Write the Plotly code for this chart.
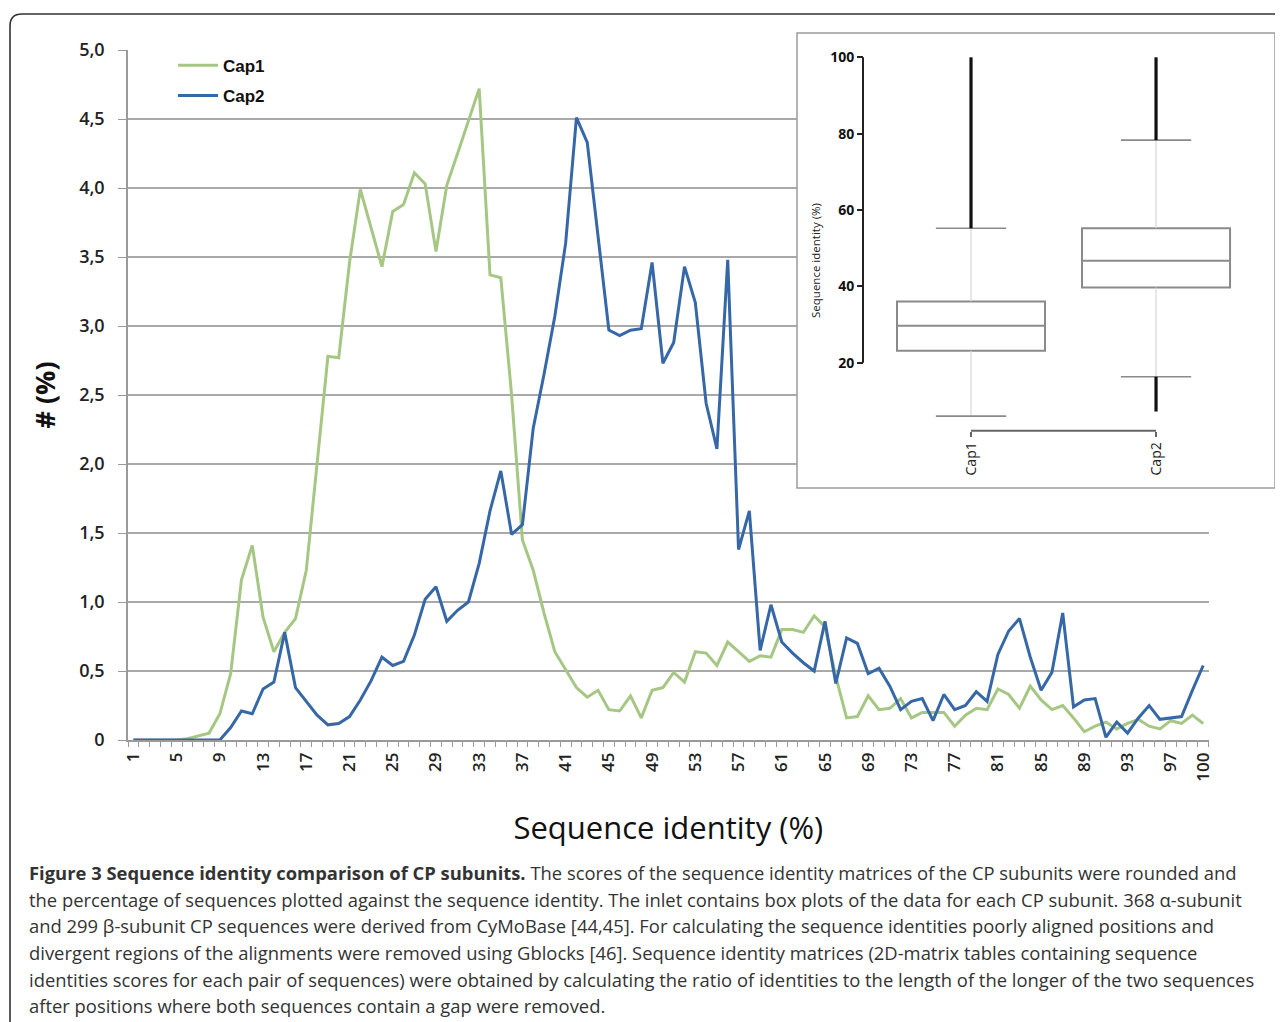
import plotly.graph_objects as go

# ---------------- data ----------------
identity = list(range(1, 101))
cap1 = [0, 0, 0, 0, 0, 0.01, 0.03, 0.05, 0.19, 0.48,
        1.16, 1.41, 0.89, 0.64, 0.78, 0.88, 1.23, 2.03, 2.78, 2.77,
        3.46, 3.99, 3.70, 3.43, 3.83, 3.88, 4.11, 4.03, 3.54, 4.02,
        4.25, 4.48, 4.72, 3.37, 3.35, 2.50, 1.45, 1.23, 0.92, 0.64,
        0.51, 0.38, 0.31, 0.36, 0.22, 0.21, 0.32, 0.16, 0.36, 0.38,
        0.49, 0.42, 0.64, 0.63, 0.54, 0.71, 0.64, 0.57, 0.61, 0.60,
        0.80, 0.80, 0.78, 0.90, 0.82, 0.46, 0.16, 0.17, 0.32, 0.22,
        0.23, 0.30, 0.16, 0.20, 0.20, 0.20, 0.10, 0.18, 0.23, 0.22,
        0.37, 0.33, 0.23, 0.39, 0.29, 0.22, 0.25, 0.16, 0.06, 0.10,
        0.13, 0.08, 0.12, 0.15, 0.10, 0.08, 0.14, 0.12, 0.18, 0.12]
cap2 = [0, 0, 0, 0, 0, 0, 0, 0, 0, 0.09,
        0.21, 0.19, 0.37, 0.42, 0.78, 0.38, 0.28, 0.18, 0.11, 0.12,
        0.17, 0.29, 0.43, 0.60, 0.54, 0.57, 0.76, 1.02, 1.11, 0.86,
        0.94, 1.00, 1.28, 1.66, 1.95, 1.49, 1.56, 2.26, 2.65, 3.07,
        3.60, 4.51, 4.33, 3.65, 2.97, 2.93, 2.97, 2.98, 3.46, 2.73,
        2.88, 3.43, 3.17, 2.44, 2.11, 3.48, 1.38, 1.66, 0.65, 0.98,
        0.71, 0.63, 0.56, 0.50, 0.86, 0.41, 0.74, 0.70, 0.48, 0.52,
        0.39, 0.22, 0.28, 0.30, 0.14, 0.33, 0.22, 0.25, 0.35, 0.28,
        0.62, 0.79, 0.88, 0.60, 0.36, 0.49, 0.92, 0.24, 0.29, 0.30,
        0.02, 0.13, 0.05, 0.16, 0.25, 0.15, 0.16, 0.17, 0.36, 0.54]
x_tick_values = [1, 5, 9, 13, 17, 21, 25, 29, 33, 37, 41, 45, 49, 53, 57,
                 61, 65, 69, 73, 77, 81, 85, 89, 93, 97, 100]
y_tick_values = [0, 0.5, 1.0, 1.5, 2.0, 2.5, 3.0, 3.5, 4.0, 4.5, 5.0]
y_tick_text = ["0", "0,5", "1,0", "1,5", "2,0", "2,5", "3,0", "3,5", "4,0", "4,5", "5,0"]

# inset box plot summary (sequence identity %)
box_names = ["Cap1", "Cap2"]
box_pos = [0, 1]
box_q1 = [23.1, 39.7]
box_median = [29.7, 46.7]
box_q3 = [36.0, 55.2]
whisker_low = [6.0, 16.3]
whisker_high = [55.2, 78.3]
outlier_top = [100, 100]
outlier_bottom = [None, 7.2]
inset_ticks = [20, 40, 60, 80, 100]

caption_lines = [
    "<b>Figure 3 Sequence identity comparison of CP subunits.</b> The scores of the sequence identity matrices of the CP subunits were rounded and",
    "the percentage of sequences plotted against the sequence identity. The inlet contains box plots of the data for each CP subunit. 368 α-subunit",
    "and 299 β-subunit CP sequences were derived from CyMoBase [44,45]. For calculating the sequence identities poorly aligned positions and",
    "divergent regions of the alignments were removed using Gblocks [46]. Sequence identity matrices (2D-matrix tables containing sequence",
    "identities scores for each pair of sequences) were obtained by calculating the ratio of identities to the length of the longer of the two sequences",
    "after positions where both sequences contain a gap were removed.",
]

# ---------------- layout helpers ----------------
OFF = 8                     # page offset of the figure inside the browser window
W, H = 1283 - OFF, 1022 - OFF


def fx(p):
    return (p - OFF) / W


def fy(p):
    return 1 - (p - OFF) / H


GREEN = "#A6C784"
BLUE = "#3667A6"
FONT = "Open Sans"

fig = go.Figure()

fig.add_trace(go.Scatter(x=identity, y=cap1, mode="lines", name="Cap1",
                         line=dict(color=GREEN, width=3), legend="legend"))
fig.add_trace(go.Scatter(x=identity, y=cap2, mode="lines", name="Cap2",
                         line=dict(color=BLUE, width=3), legend="legend2"))

# ---- inset box plot ----
fig.add_trace(go.Box(x=box_pos, q1=box_q1, median=box_median, q3=box_q3,
                     lowerfence=box_q1, upperfence=box_q3, width=0.8,
                     xaxis="x2", yaxis="y2", fillcolor="white",
                     line=dict(color="#8a8a8a", width=2), boxpoints=False,
                     showlegend=False, hoverinfo="skip", name="box"))

wx, wy = [], []
for p, lo, a, b, hi in zip(box_pos, whisker_low, box_q1, box_q3, whisker_high):
    wx += [p, p, None, p, p, None]
    wy += [lo, a, None, b, hi, None]
fig.add_trace(go.Scatter(x=wx, y=wy, mode="lines", xaxis="x2", yaxis="y2",
                         line=dict(color="#d8d8d8", width=1.2), showlegend=False,
                         hoverinfo="skip"))

cap_half = 0.19
cx, cy = [], []
for p, lo, hi in zip(box_pos, whisker_low, whisker_high):
    cx += [p - cap_half, p + cap_half, None, p - cap_half, p + cap_half, None]
    cy += [lo, lo, None, hi, hi, None]
fig.add_trace(go.Scatter(x=cx, y=cy, mode="lines", xaxis="x2", yaxis="y2",
                         line=dict(color="#8a8a8a", width=1.6), showlegend=False,
                         hoverinfo="skip"))

ox, oy = [], []
for p, hi, top, bot, lo in zip(box_pos, whisker_high, outlier_top, outlier_bottom, whisker_low):
    ox += [p, p, None]
    oy += [hi, top, None]
    if bot is not None:
        ox += [p, p, None]
        oy += [bot, lo, None]
fig.add_trace(go.Scatter(x=ox, y=oy, mode="lines", xaxis="x2", yaxis="y2",
                         line=dict(color="#111111", width=3.2), showlegend=False,
                         hoverinfo="skip"))

grid_col = "#a9a9a9"
axis_col = "#9a9a9a"

inset_left, inset_right, inset_top, inset_bottom = 797, 1275, 33, 488
inset_axis_x = 863
bracket_y = 430.7

fig.update_layout(
    width=W, height=H,
    margin=dict(l=0, r=0, t=0, b=0),
    paper_bgcolor="white", plot_bgcolor="white",
    font=dict(family=FONT, color="#222"),
    xaxis=dict(domain=[fx(128), fx(1208.6)], range=[0.5, 100.5],
               tickmode="array", tickvals=x_tick_values, tickangle=-90,
               ticks="", showgrid=False, zeroline=False,
               showline=True, linecolor=axis_col, linewidth=1.5,
               minor=dict(ticks="outside", ticklen=5, tick0=0.5, dtick=1,
                          tickcolor=axis_col, tickwidth=1, showgrid=False),
               ticklabelstandoff=4,
               tickfont=dict(size=17, family=FONT, weight=600, color="#222"),
               title=dict(text="Sequence identity (%)", font=dict(size=31, family=FONT, color="#111"),
                          standoff=37),
               automargin=False, anchor="y"),
    yaxis=dict(domain=[fy(740), fy(50)], range=[0, 5],
               tickmode="array", tickvals=y_tick_values, ticktext=y_tick_text,
               ticks="outside", ticklen=8, tickcolor=axis_col, tickwidth=1.2,
               showgrid=True, gridcolor=grid_col, gridwidth=2, zeroline=False,
               showline=True, linecolor=axis_col, linewidth=1.5,
               ticklabelstandoff=10,
               tickfont=dict(size=18, family=FONT, weight=600, color="#222"),
               title=dict(text="# (%)", font=dict(size=27, family=FONT, weight="bold", color="#111"),
                          standoff=16),
               automargin=False, anchor="x"),
    xaxis2=dict(domain=[fx(inset_left), fx(inset_right)], range=[-0.9405, 1.643],
                anchor="free", position=fy(bracket_y),
                tickmode="array", tickvals=box_pos, ticktext=box_names, tickangle=-90,
                ticks="outside", ticklen=5, tickcolor="#666", tickwidth=1.5,
                showgrid=False, zeroline=False, showline=False,
                tickfont=dict(size=14, family=FONT, color="#222"), automargin=False),
    yaxis2=dict(domain=[fy(inset_bottom), fy(inset_top)], range=[-12.84, 106.37],
                anchor="free", position=fx(inset_axis_x),
                tickmode="array", tickvals=inset_ticks,
                ticks="outside", ticklen=6, tickcolor="#222", tickwidth=1.6,
                showgrid=False, zeroline=False, showline=False,
                tickfont=dict(size=14, family=FONT, weight="bold", color="#111"),
                title=dict(text="Sequence identity (%)", font=dict(size=11.5, family=FONT, color="#222"),
                           standoff=6),
                automargin=False),
    legend=dict(x=fx(173), y=fy(65.7), xanchor="left", yanchor="middle",
                bgcolor="rgba(0,0,0,0)", borderwidth=0, itemwidth=40,
                font=dict(size=17, family="Liberation Sans", weight=600, color="#111")),
    legend2=dict(x=fx(173), y=fy(96), xanchor="left", yanchor="middle",
                 bgcolor="rgba(0,0,0,0)", borderwidth=0, itemwidth=40,
                 font=dict(size=17, family="Liberation Sans", weight=600, color="#111")),
)

shapes = [
    # inset frame
    dict(type="rect", xref="paper", yref="paper", layer="above",
         x0=fx(inset_left), x1=fx(inset_right), y0=fy(inset_bottom), y1=fy(inset_top),
         line=dict(color="#9c9c9c", width=1.5), fillcolor="rgba(0,0,0,0)"),
    # inset y axis line (20..100)
    dict(type="line", xref="paper", yref="y2", layer="above",
         x0=fx(inset_axis_x), x1=fx(inset_axis_x), y0=inset_ticks[0], y1=inset_ticks[-1],
         line=dict(color="#222", width=2)),
    # inset x bracket line
    dict(type="line", xref="x2", yref="paper", layer="above",
         x0=box_pos[0], x1=box_pos[-1], y0=fy(bracket_y), y1=fy(bracket_y),
         line=dict(color="#666", width=2)),
    # outer figure frame with rounded corner
    dict(type="path", xref="paper", yref="paper", xsizemode="pixel", ysizemode="pixel",
         xanchor=0, yanchor=1, layer="above",
         path="M 2,-1030 L 2,-18 Q 2,-6 14,-6 L 1290,-6",
         line=dict(color="#333", width=1.6)),
]
fig.update_layout(shapes=shapes)

line_y = [872, 899, 925, 952, 979, 1005]
for txt, yy in zip(caption_lines, line_y):
    fig.add_annotation(x=fx(27), y=fy(yy), xref="paper", yref="paper",
                       xanchor="left", yanchor="middle", showarrow=False,
                       text=txt, font=dict(size=18.4, family=FONT, color="#333"))

fig.write_html("out.html")
